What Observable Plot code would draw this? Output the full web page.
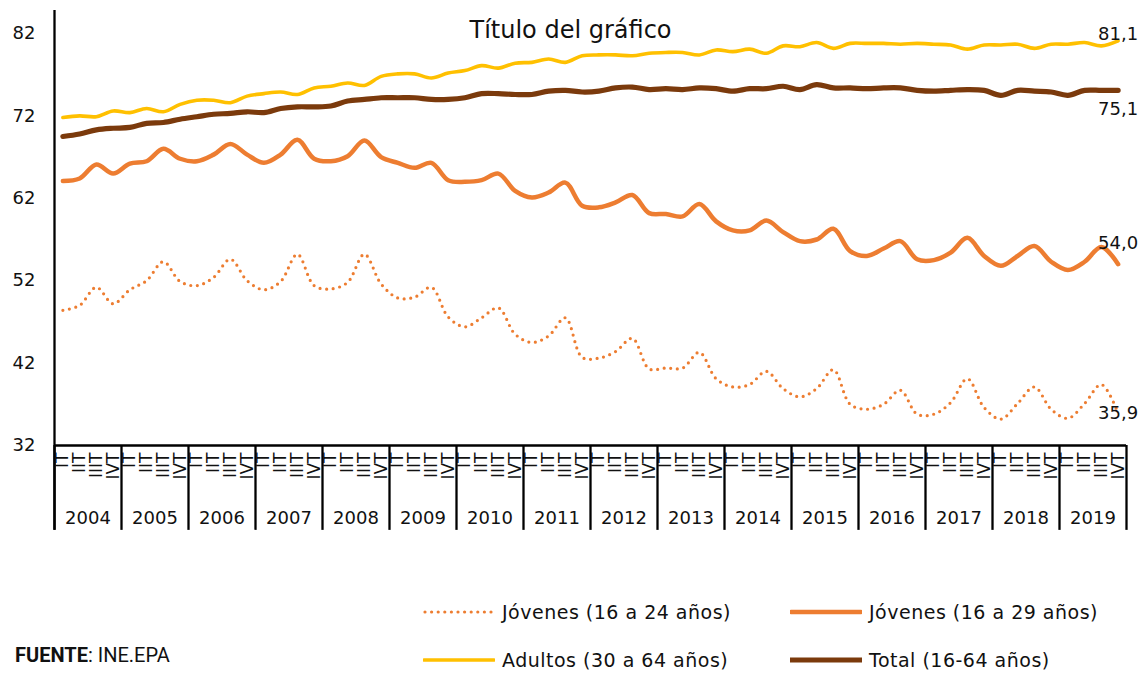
<!DOCTYPE html>
<html>
<head>
<meta charset="utf-8">
<script src="https://cdn.jsdelivr.net/npm/d3@7"></script>
<script src="https://cdn.jsdelivr.net/npm/@observablehq/plot@0.6"></script>
<style>
  html, body { margin: 0; padding: 0; background: #fff; }
  #wrap { position: relative; width: 1145px; height: 673px; overflow: hidden; font-family: "DejaVu Sans", sans-serif; color: #000; }
  #chart { position: absolute; left: 0; top: 0; }
  #title { position: absolute; left: 0; width: 1141px; top: 16px; text-align: center; font-size: 24px; color: #111; }
  .leg { position: absolute; display: flex; align-items: center; font-size: 19px; letter-spacing: 0.5px; color: #111; white-space: nowrap; }
  .leg svg { margin-right: 7px; }
  #source { position: absolute; left: 15px; top: 643px; font-family: "Liberation Sans Narrow", "Roboto", sans-serif; font-size: 20px; color: #111; }
</style>
</head>
<body>
<div id="wrap">
  <div id="chart"></div>
  <div id="title">Título del gráfico</div>
  <div id="legend"></div>
  <div id="source"><b>FUENTE</b>: INE.EPA</div>
</div>
<script>
// ---------- data ----------
const years = [2004, 2005, 2006, 2007, 2008, 2009, 2010, 2011, 2012, 2013, 2014, 2015, 2016, 2017, 2018, 2019];
const quarterLabels = ["IT", "IIT", "IIIT", "IVT"];
const yTicks = [32, 42, 52, 62, 72, 82];

const jovenes1624 = [
  48.4, 49.0, 51.2, 49.2,  50.9, 52.0, 54.3, 51.9,  51.4, 52.4, 54.6, 52.0,  50.9, 51.9, 55.2, 51.4,
  51.0, 51.8, 55.2, 51.6,  49.9, 50.0, 51.2, 47.6,  46.4, 47.5, 48.7, 45.5,  44.5, 45.3, 47.5, 42.7,
  42.6, 43.4, 45.0, 41.3,  41.4, 41.4, 43.3, 40.1,  39.1, 39.4, 41.0, 38.9,  37.9, 38.9, 41.2, 37.0,
  36.4, 37.0, 38.7, 35.8,  35.8, 37.2, 40.1, 36.6,  35.2, 37.1, 39.1, 36.4,  35.3, 37.1, 39.4, 35.9
];
const jovenes1629 = [
  64.1, 64.4, 66.1, 65.0,  66.2, 66.5, 68.0, 66.8,  66.5, 67.3, 68.6, 67.3,  66.3, 67.3, 69.1, 66.8,
  66.5, 67.1, 69.0, 67.0,  66.3, 65.7, 66.3, 64.2,  64.0, 64.2, 65.0, 62.9,  62.1, 62.7, 63.9, 61.1,
  60.9, 61.5, 62.4, 60.2,  60.1, 59.8, 61.3, 59.2,  58.1, 58.1, 59.3, 57.9,  56.8, 57.0, 58.3, 55.6,
  55.0, 55.9, 56.8, 54.6,  54.5, 55.4, 57.2, 55.0,  53.8, 55.0, 56.2, 54.3,  53.3, 54.3, 56.1, 54.0
];
const adultos3064 = [
  71.8, 72.0, 71.9, 72.6,  72.4, 72.9, 72.5, 73.4,  73.9, 73.9, 73.6, 74.4,  74.7, 74.9, 74.6, 75.4,
  75.6, 76.0, 75.7, 76.8,  77.1, 77.1, 76.6, 77.2,  77.5, 78.1, 77.8, 78.4,  78.5, 78.9, 78.5, 79.3,
  79.4, 79.4, 79.3, 79.6,  79.7, 79.7, 79.4, 80.0,  79.8, 80.1, 79.6, 80.5,  80.4, 80.9, 80.2, 80.8,
  80.8, 80.8, 80.7, 80.8,  80.7, 80.6, 80.1, 80.6,  80.6, 80.7, 80.2, 80.7,  80.7, 80.9, 80.5, 81.1
];
const total1664 = [
  69.5, 69.8, 70.3, 70.5,  70.6, 71.1, 71.2, 71.6,  71.9, 72.2, 72.3, 72.5,  72.4, 72.9, 73.1, 73.1,
  73.2, 73.8, 74.0, 74.2,  74.2, 74.2, 74.0, 74.0,  74.2, 74.7, 74.7, 74.6,  74.6, 75.0, 75.1, 74.9,
  75.0, 75.4, 75.5, 75.2,  75.3, 75.2, 75.4, 75.3,  75.0, 75.3, 75.3, 75.6,  75.2, 75.8, 75.4, 75.4,
  75.3, 75.4, 75.4, 75.1,  75.0, 75.1, 75.2, 75.1,  74.5, 75.1, 75.0, 74.9,  74.5, 75.1, 75.1, 75.1
];
const seriesNames = ["Jóvenes (16 a 24 años)", "Jóvenes (16 a 29 años)", "Adultos (30 a 64 años)", "Total (16-64 años)"];

// ---------- styles ----------
const styles = [
  { color: "#ED7D31", width: 3.2, dash: "0 6.6", labelDy: 0 },
  { color: "#ED7D31", width: 4.5, dash: null, labelDy: -21 },
  { color: "#FFC000", width: 3.6, dash: null, labelDy: -7 },
  { color: "#7B3A0C", width: 5.2, dash: null, labelDy: 19 }
];
const seriesValues = [jovenes1624, jovenes1629, adultos3064, total1664];
const series = seriesNames.map((name, k) => ({ name, values: seriesValues[k], ...styles[k] }));

const quarters = years.flatMap(y => quarterLabels.map(q => ({ year: y, q })));
const n = quarters.length;
const fmt = v => v.toFixed(1).replace(".", ",");
const axisTop = 84.8, axisBottom = 21.7;   // axis line extent (value units)
const yearBounds = years.map((y, k) => k * 4 - 0.5).concat([n - 0.5]);

const chart = Plot.plot({
  width: 1145,
  height: 540,
  marginLeft: 54,
  marginRight: 19,
  marginTop: 33,
  marginBottom: 95,
  style: { fontFamily: "DejaVu Sans, sans-serif", background: "transparent", color: "#111", overflow: "visible" },
  x: { domain: [-0.5, n - 0.5], axis: null },
  y: { domain: [32, 82], axis: null },
  marks: [
    Plot.axisY(yTicks, { tickSize: 0, tickPadding: 19, fontSize: 18, fill: "#111" }),
    ...series.map(s => Plot.line(s.values, {
      x: (d, i) => i, y: d => d,
      stroke: s.color, strokeWidth: s.width,
      strokeDasharray: s.dash, strokeLinecap: "round", strokeLinejoin: "round",
      curve: "catmull-rom"
    })),
    Plot.ruleY([32], { stroke: "#000", strokeWidth: 2.3 }),
    Plot.ruleX(yearBounds, { y1: 32, y2: axisBottom, stroke: "#000", strokeWidth: 2.3 }),
    Plot.ruleX([-0.5], { y1: axisBottom, y2: axisTop, stroke: "#000", strokeWidth: 2.3 }),
    Plot.text(years, { x: (d, k) => k * 4 + 1.5, y: 32, dy: 73, text: d => String(d), fontSize: 18, fill: "#111", lineAnchor: "middle" }),
    Plot.text(quarters, { x: (d, i) => i, y: 32, dy: 7, text: d => d.q, rotate: -90, textAnchor: "end", lineAnchor: "middle", fontSize: 17, fill: "#111", ariaLabel: "quarter-label" }),
    ...series.map(s => Plot.text([s], {
      x: d => d.values.length - 1, y: d => d.values[d.values.length - 1],
      text: d => fmt(d.values[d.values.length - 1]),
      dy: s.labelDy, textAnchor: "middle", lineAnchor: "middle", fontSize: 18, fill: "#111"
    }))
  ]
});
document.getElementById("chart").appendChild(chart);
chart.querySelectorAll('g[aria-label="quarter-label"] text').forEach(t => {
  const tr = t.getAttribute("transform") || "";
  t.setAttribute("transform", tr + " scale(0.68,1)");
});

// ---------- legend ----------
const legendPos = [
  { left: 423, top: 612 }, { left: 790, top: 612 },
  { left: 423, top: 660 }, { left: 790, top: 660 }
];
const legend = document.getElementById("legend");
series.forEach((s, k) => {
  const el = document.createElement("div");
  el.className = "leg";
  el.style.left = legendPos[k].left + "px";
  el.style.top = (legendPos[k].top - 12) + "px";
  el.style.height = "24px";
  const dash = s.dash ? `stroke-dasharray="${s.dash}"` : "";
  el.innerHTML = `<svg width="72" height="10"><line x1="${s.dash ? 2 : 1}" x2="${s.dash ? 70 : 71}" y1="5" y2="5" stroke="${s.color}" stroke-width="${s.width}" stroke-linecap="round" ${dash}/></svg><span>${s.name}</span>`;
  legend.appendChild(el);
});
</script>
</body>
</html>
